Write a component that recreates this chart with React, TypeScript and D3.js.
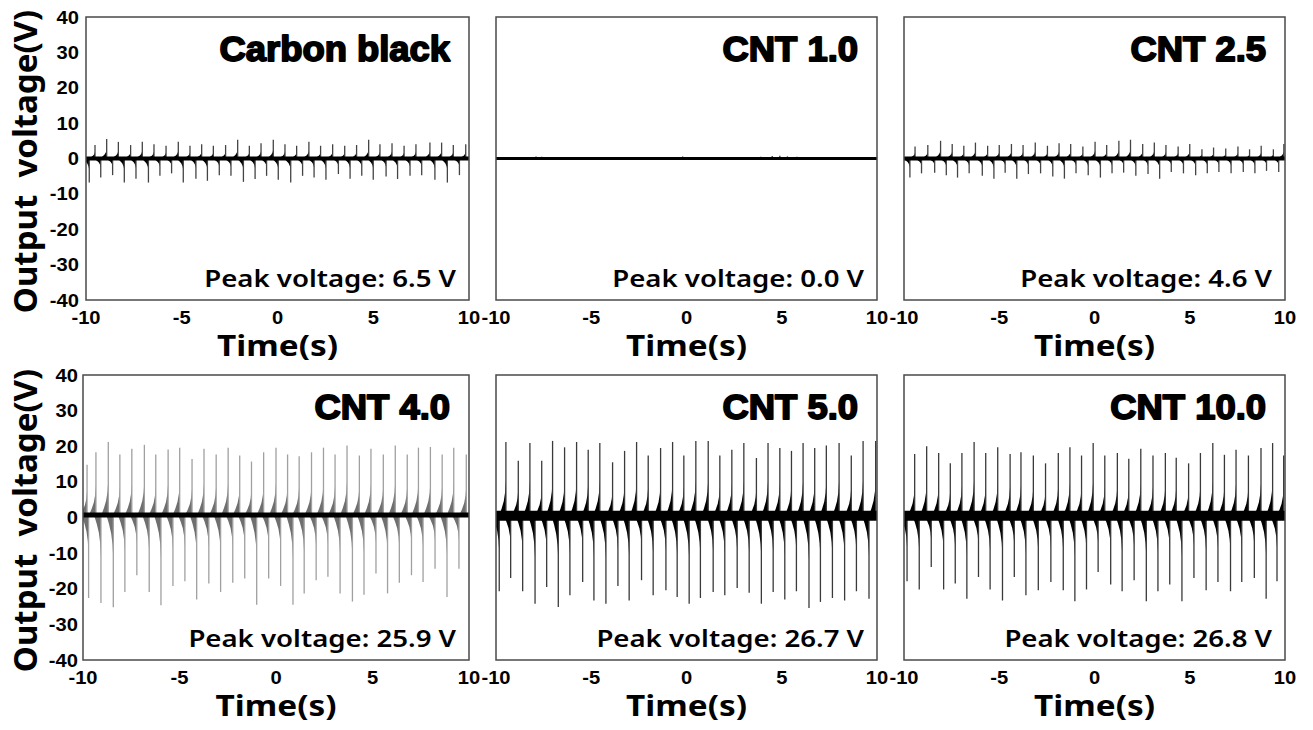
import React, { useEffect, useRef } from "react";
import * as d3 from "d3";

const titles = ["Carbon black", "CNT 1.0", "CNT 2.5", "CNT 4.0", "CNT 5.0", "CNT 10.0"];
const peakVoltages = ["6.5", "0.0", "4.6", "25.9", "26.7", "26.8"];
const timeTicks = [-10, -5, 0, 5, 10];
const voltTicks = [40, 30, 20, 10, 0, -10, -20, -30, -40];

// DC level of the trace in each panel (V)
const baselineLevels = [0, 0, 0, 0.7, 0.5, 0.5];

// Carbon black: spike times (s) and spike heights (V)
const cbUpT = [-9.53, -8.92, -8.31, -7.67, -7.06, -6.45, -5.82, -5.18, -4.57, -3.96, -3.35, -2.71, -2.08, -1.47, -0.86, -0.22, 0.39, 1.0, 1.64, 2.25, 2.88, 3.51, 4.13, 4.76, 5.35, 5.98, 6.61, 7.23, 7.96, 8.57, 9.18, 9.83];
const cbUpV = [3.8, 5.5, 4.7, 3.8, 4.7, 4.0, 3.6, 4.7, 3.6, 4.0, 3.6, 3.8, 5.3, 3.6, 4.3, 5.3, 4.0, 3.6, 4.7, 3.6, 4.0, 3.6, 3.8, 5.3, 4.0, 4.3, 3.6, 4.0, 4.5, 4.5, 3.8, 4.0];
const cbDnT = [-9.83, -9.23, -8.61, -8.0, -7.39, -6.74, -6.14, -5.53, -4.92, -4.26, -3.66, -3.04, -2.43, -1.78, -1.17, -0.57, 0.04, 0.69, 1.31, 1.91, 2.53, 3.18, 3.79, 4.4, 5.0, 5.67, 6.27, 6.92, 7.53, 8.22, 8.87, 9.5];
const cbDnV = [-6.8, -5.4, -4.7, -6.8, -5.7, -6.8, -4.9, -4.2, -6.8, -5.7, -6.3, -4.7, -4.9, -6.6, -5.8, -4.9, -6.0, -6.8, -4.9, -5.4, -6.0, -4.4, -5.7, -4.9, -6.0, -5.1, -5.8, -4.9, -4.7, -6.0, -6.8, -4.7];

// CNT 1.0
const c10UpT = [-9.6, -8.7, -7.9, -7.6, -7.1, -6.3, -4.2, -2.8, -1.5, -0.2, 1.2, 2.6, 3.9, 4.5, 4.9, 5.3, 5.8, 6.4, 8.2];
const c10UpV = [0.3, 0.4, 0.6, 0.5, 0.4, 0.3, 0.3, 0.4, 0.3, 0.6, 0.3, 0.4, 0.5, 0.7, 0.8, 0.6, 0.5, 0.4, 0.3];
const c10DnT = [-8.2, -5.5, -3.3, -0.8, 2.1, 4.7, 7.4];
const c10DnV = [-0.3, -0.3, -0.4, -0.3, -0.3, -0.4, -0.3];

// CNT 2.5
const c25UpT = [-9.42, -8.75, -8.08, -7.47, -6.86, -6.25, -5.61, -5.0, -4.36, -3.75, -3.11, -2.47, -1.86, -1.25, -0.61, 0.03, 0.64, 1.28, 1.89, 2.53, 3.14, 3.75, 4.39, 5.0, 5.64, 6.25, 6.89, 7.53, 8.14, 8.75, 9.39, 9.94];
const c25UpV = [3.4, 3.8, 5.0, 4.1, 3.6, 4.5, 3.6, 3.8, 4.1, 3.8, 4.5, 3.6, 4.3, 4.1, 3.4, 4.7, 3.8, 5.0, 5.3, 4.1, 4.5, 3.8, 3.4, 4.1, 2.6, 3.1, 2.8, 3.4, 2.6, 3.6, 2.6, 4.1];
const c25DnT = [-9.69, -9.08, -8.39, -7.78, -7.19, -6.58, -5.89, -5.28, -4.69, -4.08, -3.47, -2.83, -2.19, -1.58, -0.97, -0.33, 0.31, 0.92, 1.53, 2.17, 2.81, 3.42, 4.03, 4.67, 5.31, 5.92, 6.53, 7.17, 7.81, 8.42, 9.03, 9.67];
const c25DnV = [-5.4, -4.2, -4.0, -4.7, -5.4, -4.2, -4.9, -5.7, -4.0, -5.7, -4.4, -4.2, -5.1, -5.7, -4.2, -4.7, -5.4, -4.2, -4.0, -4.9, -4.4, -5.7, -3.8, -4.2, -4.7, -4.2, -3.8, -4.2, -3.8, -4.2, -3.5, -3.8];

// CNT 4.0
const c40UpT = [-9.79, -9.33, -8.69, -8.09, -7.47, -6.82, -6.23, -5.59, -4.99, -4.35, -3.73, -3.1, -2.48, -1.88, -1.27, -0.64, 0.0, 0.6, 1.2, 1.84, 2.46, 3.06, 3.68, 4.32, 4.92, 5.56, 6.18, 6.8, 7.38, 8.0, 8.61, 9.21, 9.86];
const c40UpV = [14.1, 17.6, 20.5, 17.0, 18.6, 19.7, 17.0, 18.4, 18.9, 15.7, 18.6, 17.0, 18.9, 16.7, 15.0, 17.6, 18.9, 17.0, 16.5, 17.6, 18.9, 17.0, 19.5, 16.7, 18.6, 17.0, 19.5, 17.0, 18.9, 19.1, 17.0, 18.9, 17.0];
const c40DnT = [-9.71, -9.07, -8.43, -7.83, -7.21, -6.57, -5.96, -5.34, -4.72, -4.11, -3.48, -2.87, -2.24, -1.62, -1.0, -0.38, 0.24, 0.88, 1.46, 2.08, 2.69, 3.32, 3.96, 4.56, 5.18, 5.78, 6.39, 7.02, 7.62, 8.24, 8.86, 9.48];
const c40DnV = [-23.3, -24.7, -25.9, -21.6, -16.9, -21.6, -25.3, -19.9, -18.6, -23.7, -19.2, -21.6, -19.0, -17.8, -25.2, -17.8, -19.9, -25.2, -22.0, -18.3, -17.3, -22.0, -24.3, -22.4, -16.4, -22.0, -19.0, -16.9, -18.8, -15.1, -23.0, -15.1];

// CNT 5.0
const c50UpT = [-9.48, -8.83, -8.22, -7.6, -7.03, -6.4, -5.77, -5.16, -4.55, -3.88, -3.25, -2.62, -2.01, -1.36, -0.73, -0.14, 0.49, 1.14, 1.75, 2.38, 3.01, 3.67, 4.28, 4.9, 5.51, 6.12, 6.73, 7.34, 8.01, 8.65, 9.27, 9.93];
const c50UpV = [20.7, 15.4, 20.4, 15.4, 21.0, 19.2, 20.7, 18.5, 20.4, 15.0, 18.2, 20.7, 16.9, 19.0, 20.7, 16.9, 21.0, 21.0, 16.9, 18.5, 20.4, 16.2, 20.4, 19.0, 18.2, 20.4, 19.0, 19.7, 20.4, 16.9, 21.0, 21.0];
const c50DnT = [-9.83, -9.23, -8.6, -7.95, -7.34, -6.73, -6.12, -5.45, -4.86, -4.23, -3.6, -3.01, -2.36, -1.75, -1.08, -0.49, 0.14, 0.73, 1.4, 2.01, 2.66, 3.29, 3.93, 4.55, 5.16, 5.77, 6.43, 7.03, 7.66, 8.3, 8.92, 9.58];
const c50DnV = [-21.2, -17.5, -21.2, -24.7, -20.0, -25.6, -22.3, -18.6, -23.8, -24.7, -19.7, -23.8, -18.1, -22.3, -20.9, -22.8, -24.7, -23.1, -21.4, -22.3, -20.3, -21.6, -24.7, -21.4, -23.5, -21.2, -25.9, -24.2, -23.1, -23.8, -21.2, -23.3];

// CNT 10.0
const c100UpT = [-9.44, -8.81, -8.18, -7.57, -6.96, -6.32, -5.71, -5.08, -4.43, -3.86, -3.21, -2.57, -1.9, -1.29, -0.68, -0.07, 0.54, 1.2, 1.8, 2.43, 3.07, 3.72, 4.29, 4.94, 5.56, 6.21, 6.82, 7.43, 8.08, 8.74, 9.35, 9.93];
const c100UpV = [17.3, 19.5, 17.6, 14.7, 17.6, 20.7, 17.6, 19.2, 17.3, 17.8, 16.9, 14.7, 17.6, 19.2, 16.9, 20.4, 16.9, 17.6, 16.0, 18.8, 16.9, 17.6, 16.3, 14.7, 17.6, 20.4, 17.1, 18.5, 16.9, 19.0, 20.4, 16.9];
const c100DnT = [-9.84, -9.2, -8.57, -7.92, -7.31, -6.7, -6.09, -5.48, -4.83, -4.21, -3.6, -2.95, -2.29, -1.64, -1.03, -0.42, 0.19, 0.85, 1.45, 2.08, 2.72, 3.33, 3.95, 4.59, 5.22, 5.86, 6.48, 7.14, 7.73, 8.39, 9.01, 9.58];
const c100DnV = [-18.4, -20.7, -14.4, -20.7, -19.0, -23.3, -17.2, -20.7, -23.8, -17.2, -22.3, -20.9, -18.6, -20.9, -24.0, -20.7, -15.8, -19.3, -21.2, -18.1, -24.0, -21.2, -19.3, -24.0, -17.5, -20.9, -18.6, -21.2, -18.6, -17.5, -23.3, -18.4];

const upTimes = [cbUpT, c10UpT, c25UpT, c40UpT, c50UpT, c100UpT];
const upVolts = [cbUpV, c10UpV, c25UpV, c40UpV, c50UpV, c100UpV];
const dnTimes = [cbDnT, c10DnT, c25DnT, c40DnT, c50DnT, c100DnT];
const dnVolts = [cbDnV, c10DnV, c25DnV, c40DnV, c50DnV, c100DnV];

// plot boxes [left, right, top, bottom]
const boxes = [
  [86, 469, 17, 300],
  [496, 877, 17, 300],
  [904, 1285, 17, 300],
  [83, 469, 375, 660],
  [496, 877, 375, 660],
  [904, 1285, 375, 660],
];
// trace look per panel
const looks = [
  { band: 0.6, wedge: "#000", spike: "#444" },
  { band: 0.4, wedge: "#000", spike: "#333" },
  { band: 0.6, wedge: "#000", spike: "#444" },
  { band: 0.7, wedge: "#6f6f6f", spike: "#a0a0a0" },
  { band: 1.4, wedge: "#000", spike: "#3a3a3a" },
  { band: 1.4, wedge: "#000", spike: "#3a3a3a" },
];

const SX = 1.15;

function App() {
  const ref = useRef<SVGSVGElement>(null);

  useEffect(() => {
    const svg = d3.select(ref.current);
    svg.selectAll("*").remove();

    const label = (g: any, x: number, y: number, s: string, anchor: string, font: string, size: number, weight: number | string, sx = SX) =>
      g.append("text")
        .attr("transform", `translate(${x},${y}) scale(${sx},1)`)
        .attr("text-anchor", anchor)
        .style("font-family", font)
        .style("font-size", size + "px")
        .style("font-weight", weight)
        .attr("fill", "#000")
        .text(s);

    boxes.forEach((b, i) => {
      const [x0, x1, y0, y1] = b;
      const look = looks[i];
      const base = baselineLevels[i];
      const x = d3.scaleLinear().domain([-10, 10]).range([x0, x1]);
      const y = d3.scaleLinear().domain([-40, 40]).range([y1, y0]);
      const g = svg.append("g");

      g.append("clipPath").attr("id", "clip" + i)
        .append("rect").attr("x", x0).attr("y", y0).attr("width", x1 - x0).attr("height", y1 - y0);
      const plot = g.append("g").attr("clip-path", `url(#clip${i})`);

      const line = d3.line();
      // decaying ramp that leads into each spike
      const wedge = (t: number, v: number) =>
        line([
          [x(t - 0.36), y(base)],
          [x(t - 0.22), y(base + 0.1 * v)],
          [x(t - 0.11), y(base + 0.2 * v)],
          [x(t - 0.04), y(base + 0.32 * v)],
          [x(t), y(base + 0.48 * v)],
          [x(t), y(base)],
        ]) + "Z";

      const pulses: [number, number][] = [];
      upTimes[i].forEach((t, j) => pulses.push([t, upVolts[i][j]]));
      dnTimes[i].forEach((t, j) => pulses.push([t, dnVolts[i][j]]));

      plot.selectAll("path.wedge")
        .data(pulses)
        .join("path")
        .attr("class", "wedge")
        .attr("d", (d) => wedge(d[0], d[1]))
        .attr("fill", look.wedge);

      plot.selectAll("line.spike")
        .data(pulses)
        .join("line")
        .attr("class", "spike")
        .attr("x1", (d) => x(d[0])).attr("x2", (d) => x(d[0]))
        .attr("y1", y(base)).attr("y2", (d) => y(base + d[1]))
        .attr("stroke", look.spike)
        .attr("stroke-width", 1.3);

      // noise band around the baseline
      plot.append("line")
        .attr("x1", x(-10)).attr("x2", x(10))
        .attr("y1", y(base)).attr("y2", y(base))
        .attr("stroke", "#000")
        .attr("stroke-width", Math.max(3, y(-look.band) - y(look.band)));

      g.append("rect")
        .attr("x", x0).attr("y", y0)
        .attr("width", x1 - x0).attr("height", y1 - y0)
        .attr("fill", "none").attr("stroke", "#4a4a4a").attr("stroke-width", 1.5);

      // axes text
      timeTicks.forEach((t) => label(g, x(t), y1 + 24, String(t), "middle", "Liberation Sans, Arial, sans-serif", 18, 700, 1.12));
      if (i % 3 === 0) {
        voltTicks.forEach((v) => label(g, x0 - (i === 0 ? 7 : 5), y(v) + 6.5, String(v), "end", "Liberation Sans, Arial, sans-serif", 18, 700, 1.12));
        g.append("text")
          .attr("transform", `translate(37,${(y0 + y1) / 2 + 3}) rotate(-90)`)
          .attr("text-anchor", "middle")
          .style("font-family", "Noto Sans, sans-serif")
          .style("font-size", "33px")
          .style("font-weight", 700)
          .style("white-space", "pre")
          .attr("xml:space", "preserve")
          .text("Output  voltage(V)");
      }
      label(g, (x0 + x1) / 2, y1 + 56, "Time(s)", "middle", "Noto Sans, sans-serif", 29, 700);

      label(g, x1 - 19, y0 + 44, titles[i], "end", "Liberation Sans, Arial, sans-serif", 35, 700, 1.04)
        .attr("stroke", "#000").attr("stroke-width", 1.8).attr("stroke-linejoin", "round");
      label(g, x1 - 13, y1 - 13, `Peak voltage: ${peakVoltages[i]} V`, "end", "Noto Sans, sans-serif", 23, 600, 1.2);
    });
  }, []);

  return (
    <svg ref={ref} width={1313} height={730} style={{ position: "absolute", left: 0, top: 0, background: "#fff" }} />
  );
}

export default App;
